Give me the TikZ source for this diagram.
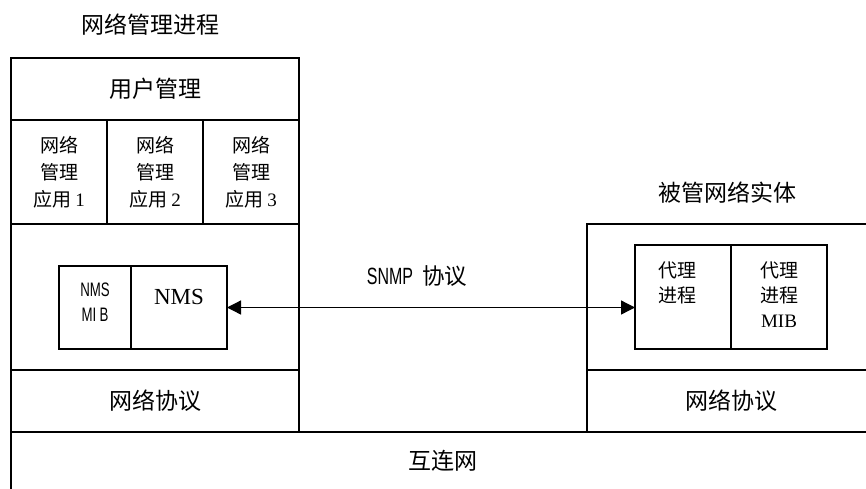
\documentclass[tikz,border=0pt]{standalone}
\usepackage{fontspec}
\setmainfont{Noto Sans CJK SC}
\newfontfamily\tms{Liberation Serif}
\newfontfamily\narrow[FakeStretch=0.68]{Liberation Sans}
\usetikzlibrary{arrows.meta}
\begin{document}
\begin{tikzpicture}[x=1pt,y=-1pt,
  box/.style={draw, line width=1.3pt, inner sep=0pt, outer sep=0pt},
  big/.style={font=\fontsize{23}{27}\selectfont},
  small/.style={font=\fontsize{19}{27}\selectfont, align=center, inner sep=0pt},
  lbl/.style={inner sep=0pt, align=center},
  link/.style={line width=1.3pt, {Triangle[length=14pt,width=14pt]}-{Triangle[length=14pt,width=14pt]}},
]
\useasboundingbox (0,0) rectangle (866,488);
\clip (0,0) rectangle (866,488);

% titles
\node[lbl, big] (ttl) at (150,25) {网络管理进程};
\node[lbl, big] (ttr) at (727,193) {被管网络实体};

% left stack
\node[box, big, minimum width=288pt, minimum height=62pt] (um) at (155,89) {用户管理};
\node[box, small, minimum width=96pt, minimum height=104pt] (app1) at (59,172) {网络\\管理\\应用 {\tms 1}};
\node[box, small, minimum width=96pt, minimum height=104pt] (app2) at (155,172) {网络\\管理\\应用 {\tms 2}};
\node[box, small, minimum width=96pt, minimum height=104pt] (app3) at (251,172) {网络\\管理\\应用 {\tms 3}};
\node[box, minimum width=288pt, minimum height=146pt] (lmid) at (155,297) {};
\node[box, big, minimum width=288pt, minimum height=62pt] (lproto) at (155,401) {网络协议};

% NMS boxes
\node[box, minimum width=72pt, minimum height=83pt] (nmsmib) at (95,307.5) {};
\node[box, minimum width=96pt, minimum height=83pt] (nms) at (179,307.5) {};
\node[lbl, font=\narrow\fontsize{19.5}{25}\selectfont] (nmsmibt) at (95,302.5) {NMS\\MI\,B};
\node[lbl, font=\tms\fontsize{23}{26}\selectfont] (nmst) at (179,297) {NMS};

% right stack
\node[box, minimum width=288pt, minimum height=146pt] (rmid) at (731,297) {};
\node[box, big, minimum width=288pt, minimum height=62pt] (rproto) at (731,401) {网络协议};
\node[box, minimum width=96pt, minimum height=104pt] (agent) at (683,297) {};
\node[box, minimum width=96pt, minimum height=104pt] (agentmib) at (779,297) {};
\node[small] (agentt) at (677,282.5) {代理\\[-2pt]进程};
\node[small] (agentmibt) at (779,295) {代理\\[-2pt]进程\\[-2pt]{\tms MIB}};

% bottom
\node[box, big, minimum width=864pt, minimum height=58pt] (inet) at (443,461) {互连网};

% link
\draw[link] (nms.east) -- (agent.west |- nms.east);
\node[lbl] (snmp) at (417,276) {{\narrow\fontsize{23.5}{26}\selectfont SNMP}\hspace{9pt}{\fontsize{22.5}{26}\selectfont 协议}};
\end{tikzpicture}
\end{document}
